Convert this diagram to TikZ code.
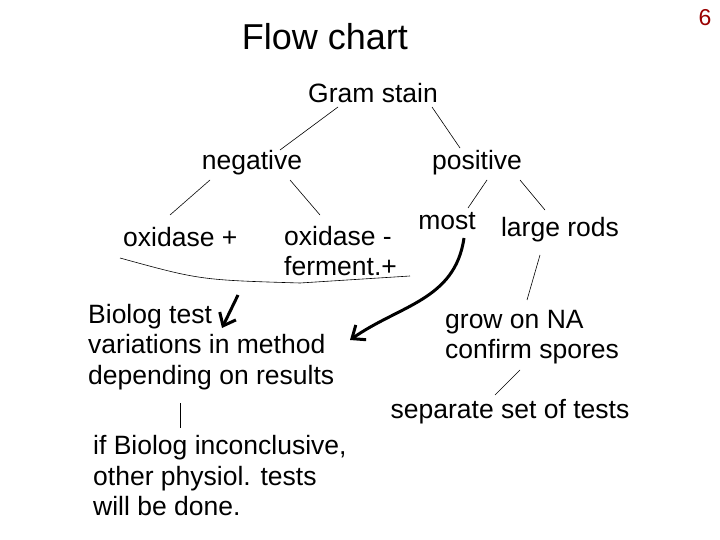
\documentclass[tikz,border=0pt]{standalone}
\usepackage{fontspec}
\setmainfont{Liberation Sans}
\usetikzlibrary{arrows.meta}
\begin{document}
\begin{tikzpicture}[x=1pt,y=-1pt,
  lbl/.style={inner sep=0pt,font=\fontsize{26.5}{30.5}\selectfont},
  ll/.style={lbl,anchor=west,align=left},
  ln/.style={line width=0.6pt},
  thick arrow/.style={line width=3pt,-{Straight Barb[length=11pt,width=18pt,line width=3pt]}}]
\useasboundingbox (0,0) rectangle (720,540);
\node[lbl,font=\fontsize{36}{40}\selectfont] (title) at (325,37) {Flow chart};
\node[lbl,font=\fontsize{23}{26}\selectfont,text=red!60!black] (num) at (705,18) {6};
\node[lbl] (gram) at (373,93) {Gram stain};
\node[lbl] (neg) at (252,163) {negative};
\node[lbl] (pos) at (477,163) {positive};
\node[ll] (oxp) at (123,237) {oxidase +};
\node[ll] (oxm) at (284,251) {oxidase -\\ferment.+};
\node[lbl] (most) at (447,221) {most};
\node[lbl] (rods) at (560,230) {large rods};
\node[ll] (biolog) at (88,347) {Biolog test\\variations in method\\depending on results};
\node[ll] (grow) at (445,337) {grow on NA\\confirm spores};
\node[lbl] (sep) at (510,412) {separate set of tests};
\node[ll] (ifb) at (93,476) {if Biolog inconclusive,\\other physiol. tests\\will be done.};
\coordinate (c1) at (120,258);
\coordinate (c2) at (410,276);
\draw[ln] (338,107) -- (280,150);
\draw[ln] (432,107) -- (460,148);
\draw[ln] (210,180) -- (170,215);
\draw[ln] (290,180) -- (320,215);
\draw[ln] (487,180) -- (468,208);
\draw[ln] (520,180) -- (545,210);
\draw[ln] (c1) .. controls (200,280) .. (300,283) -- (c2);
\draw[thick arrow] (238,295) -- (222,328);
\draw[thick arrow] (464,238) .. controls (455,300) and (400,305) .. (350,340);
\draw[ln] (540,255) -- (527,300);
\draw[ln] (520,370) -- (495,395);
\draw[ln] (180,403) -- (180,428);
\end{tikzpicture}
\end{document}
